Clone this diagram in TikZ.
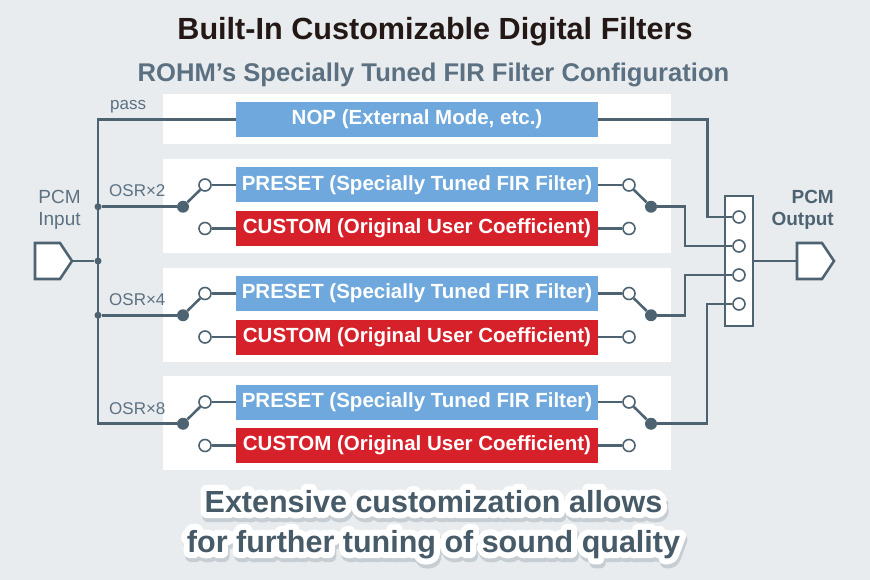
\documentclass[tikz,border=0pt]{standalone}
\usepackage{fontspec}
\setmainfont{Liberation Sans}
\usetikzlibrary{calc}
\definecolor{bg}{HTML}{E9ECEF}
\definecolor{slate}{HTML}{4E6371}
\definecolor{subt}{HTML}{5B7181}
\definecolor{fblue}{HTML}{6FA8DC}
\definecolor{fred}{HTML}{D6202A}
\definecolor{ttl}{HTML}{231815}
\definecolor{shade}{HTML}{C6CDD3}
\definecolor{btext}{HTML}{465A68}
\begin{document}
\begin{tikzpicture}[x=1pt,y=-1pt,
 wire/.style={draw=slate,line width=2.6pt},
 fbox/.style={minimum width=362pt,minimum height=35pt,inner sep=0pt,text=white,font=\fontsize{20.5}{24}\selectfont\bfseries},
 presetbox/.style={fbox,fill=fblue},
 custombox/.style={fbox,fill=fred},
 term/.style={circle,draw=slate,fill=white,line width=1.6pt,minimum size=12pt,inner sep=0pt},
 swpivot/.style={circle,fill=slate,minimum size=12pt,inner sep=0pt},
 junc/.style={circle,fill=slate,minimum size=7pt,inner sep=0pt},
 lbl/.style={text=subt,font=\fontsize{17}{20}\selectfont,anchor=base west,inner sep=0pt},
 bt/.style={font=\fontsize{30.5}{36}\selectfont\bfseries,anchor=base,inner sep=0pt,line join=round},
 btline/.style={bt,font=\fontsize{30.5}{36}\selectfont\bfseries\addfontfeature{FakeBold=40}},
]
\fill[bg] (0,0) rectangle (870,580);
\useasboundingbox (0,0) rectangle (870,580);

% titles
\node[text=ttl,font=\fontsize{30.6}{36}\selectfont\bfseries,anchor=base] (title) at (435,40) {Built-In Customizable Digital Filters};
\node[text=subt,font=\fontsize{25.6}{30}\selectfont\bfseries,anchor=base] (subtitle) at (433.5,82) {ROHM’s Specially Tuned FIR Filter Configuration};

% panels
\fill[white] (163,94) rectangle (671,144);
\fill[white] (163,159) rectangle (671,253);
\fill[white] (163,267.5) rectangle (671,361.5);
\fill[white] (163,376) rectangle (671,470);

% filter boxes
\node[presetbox] (nop) at (417,119.5) {NOP (External Mode, etc.)};
\node[presetbox] (p1) at (417,185) {PRESET (Specially Tuned FIR Filter)};
\node[custombox] (c1) at (417,228.5) {CUSTOM (Original User Coefficient)};
\node[presetbox] (p2) at (417,293.5) {PRESET (Specially Tuned FIR Filter)};
\node[custombox] (c2) at (417,337) {CUSTOM (Original User Coefficient)};
\node[presetbox] (p3) at (417,402) {PRESET (Specially Tuned FIR Filter)};
\node[custombox] (c3) at (417,445.5) {CUSTOM (Original User Coefficient)};

% switches
\foreach \i/\yp/\yc/\ym in {1/185/228.5/206.75,2/293.5/337/315.25,3/402/445.5/423.75}{
  \node[term] (lu\i) at (205,\yp) {};
  \node[term] (lc\i) at (205,\yc) {};
  \node[term] (ru\i) at (629,\yp) {};
  \node[term] (rc\i) at (629,\yc) {};
  \node[swpivot] (pl\i) at (183,\ym) {};
  \node[swpivot] (pr\i) at (651,\ym) {};
  \draw[wire] (lu\i) -- (p\i);
  \draw[wire] (lc\i) -- (c\i);
  \draw[wire] (p\i) -- (ru\i);
  \draw[wire] (c\i) -- (rc\i);
  \draw[wire] (pl\i) -- (lu\i);
  \draw[wire] (ru\i) -- (pr\i);
}

% input bus
\coordinate (btop) at (98,119.5);
\coordinate (bbot) at (98,423.75);
\node[junc] (j1) at (98,206.75) {};
\node[junc] (jin) at (98,261) {};
\node[junc] (j2) at (98,315.25) {};
\draw[wire,line join=miter] (nop.west) -- (btop) -- (bbot) -- (pl3);
\draw[wire] (j1) -- (pl1);
\draw[wire] (j2) -- (pl2);
\draw[wire,fill=white,line join=miter] (35,243) -- (60,243) -- (72,261) -- (60,279) -- (35,279) -- cycle;
\coordinate (inp) at (72,261);
\draw[wire] (inp) -- (jin);

% mux
\node[draw=slate,fill=white,line width=1.8pt,minimum width=28pt,minimum height=130pt,inner sep=0pt] (mux) at (739,261) {};
\node[term] (m1) at (739,217) {};
\node[term] (m2) at (739,246) {};
\node[term] (m3) at (739,275) {};
\node[term] (m4) at (739,304) {};
\draw[wire,line join=miter] (nop.east) -- ++(109,0) |- (m1);
\draw[wire,line join=miter] (pr1) -- ++(34,0) |- (m2);
\draw[wire,line join=miter] (pr2) -- ++(34,0) |- (m3);
\draw[wire,line join=miter] (pr3) -- ++(56,0) |- (m4);

% output
\coordinate (outp) at (797,261);
\draw[wire] (mux.east) -- (outp);
\draw[wire,fill=white,line join=miter] (797,243) -- (822,243) -- (834,261) -- (822,279) -- (797,279) -- cycle;

% labels
\node[lbl] (lpass) at (110,110) {pass};
\node[lbl] (losr2) at (109,197) {OSR×2};
\node[lbl] (losr4) at (109,305.5) {OSR×4};
\node[lbl] (losr8) at (109,414) {OSR×8};
\node[text=subt,font=\fontsize{19}{22}\selectfont,align=center,inner sep=0pt] (pin) at (59.5,210) {PCM\\Input};
\node[text=slate,font=\fontsize{19}{22}\selectfont\bfseries,align=right,inner sep=0pt,anchor=east] (pout) at (834,210) {PCM\\Output};

% bottom text
\foreach \txt/\yy/\nm in {Extensive customization allows/512/bta,for further tuning of sound quality/552/btb}{
  \node[btline,text=shade] (\nm s) at (435,\yy+4) {\txt};
  \node[btline,text=white] (\nm w) at (433.5,\yy) {\txt};
  \node[bt,text=btext] (\nm) at (433.5,\yy) {\txt};
}
\end{tikzpicture}
\end{document}
